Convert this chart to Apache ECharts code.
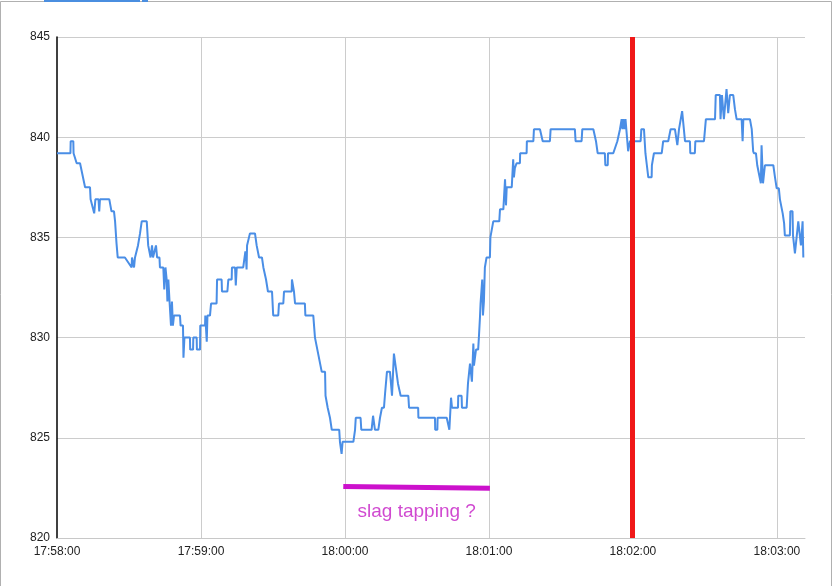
<!DOCTYPE html>
<html>
<head>
<meta charset="utf-8">
<script src="https://cdn.jsdelivr.net/npm/echarts@6/dist/echarts.min.js"></script>
<style>
html,body{margin:0;padding:0;background:#fff;}
#c{width:837px;height:586px;}
</style>
</head>
<body>
<div id="c"></div>
<script>
// seconds after 17:58:00
var seconds = [0,5.6,5.7,6.8,6.9,7.5,8.2,9.6,11.7,13.75,14.0,15.5,16.0,17.3,17.6,17.9,21.8,22.7,23.75,24.2,24.8,25.3,28.3,31.1,31.25,31.9,32.1,32.5,33.3,33.75,34.6,35.3,37.4,37.7,38.0,38.75,39.0,39.6,40.0,41.25,41.7,42.7,42.9,44.3,44.7,45.2,45.7,46.0,46.4,46.9,47.1,47.5,47.9,48.3,48.75,51.25,51.5,52.5,52.7,53.1,55.4,55.5,56.7,56.8,58.2,58.3,59.6,59.7,61.7,61.8,62.1,62.4,62.7,63.75,64.2,66.5,66.7,68.6,68.75,71.0,71.4,72.8,72.9,74.2,74.5,74.9,77.6,78.5,78.75,79.0,79.2,80.4,82.5,83.2,83.75,84.2,85.4,86.0,86.7,87.1,87.5,87.9,89.6,90.1,92.2,92.5,94.3,94.6,97.8,97.9,98.5,98.75,99.2,103.3,103.5,106.8,107.5,110.3,111.7,111.9,112.5,112.8,113.75,114.5,117.6,117.9,118.6,119.0,123.5,124.2,124.5,126.5,126.8,131.1,131.7,132.5,133.9,134.6,135.4,136.25,136.7,137.5,138.75,139.6,140.4,142.1,142.9,143.2,146.4,146.7,150.5,150.6,157.5,157.6,158.5,158.6,162.4,163.5,164.2,164.6,167.1,167.2,168.6,168.75,170.7,171.25,172.1,172.9,173.5,173.75,174.6,175.5,175.8,176.25,176.5,177.2,177.5,177.9,178.3,179.0,180.4,180.6,181.8,184.3,184.6,186.0,186.7,187.1,187.4,189.5,190.1,190.4,190.8,191.5,192.9,193.0,195.7,195.8,198.5,198.75,201.25,202.4,205.4,205.7,215.8,216.1,218.6,218.9,223.5,224.6,225.3,228.3,228.5,229.5,229.6,231.8,233.5,234.3,234.6,235.3,235.6,236.0,236.5,236.9,237.4,238.0,238.75,240.8,243.2,243.5,244.6,244.9,245.2,245.8,246.4,247.8,247.9,248.5,248.75,252.0,252.6,254.7,255.7,257.5,258.5,259.2,259.6,260.5,261.7,263.75,263.9,265.8,266.0,269.6,270.4,274.2,274.5,276.25,276.5,277.1,277.9,279.0,279.7,280.4,281.8,282.5,283.2,285.3,285.7,286.0,288.75,289.5,290.1,290.4,291.25,291.8,293.3,293.6,294.2,295.0,298.5,299.2,299.9,300.8,301.25,302.4,303.0,303.3,305.4,305.6,306.5,306.7,307.5,308.9,309.6,310.0,310.7,311.0];
var values = [839.2,839.2,839.8,839.8,839.2,839.2,838.7,838.7,837.5,837.5,836.9,836.2,836.9,836.9,836.3,836.9,836.9,836.3,836.3,835.8,834.7,834.0,834.0,833.5,834.0,834.0,833.5,834.0,834.0,834.6,835.2,835.8,835.8,835.2,834.6,834.6,834.0,834.6,834.0,834.6,834.0,834.0,833.5,833.5,832.4,833.5,832.9,831.8,832.9,831.8,831.8,830.6,831.8,830.6,831.1,831.1,830.6,830.6,829.0,830.0,830.0,829.4,829.4,830.0,830.0,829.4,829.4,830.6,830.6,831.1,831.1,829.8,831.1,831.1,831.7,831.7,832.9,832.9,832.3,832.3,832.9,832.9,833.5,833.5,832.6,833.5,833.5,834.3,834.0,833.4,834.6,835.2,835.2,834.6,834.6,834.0,834.0,833.5,833.5,832.9,832.9,832.3,832.3,831.1,831.1,831.7,831.7,832.3,832.3,832.9,832.9,832.3,831.7,831.7,831.1,831.1,830.0,828.3,828.3,827.1,827.1,826.5,826.0,825.4,825.4,824.8,824.2,824.8,824.8,825.4,826.0,826.0,825.4,825.4,826.1,825.4,825.4,826.0,826.5,826.5,827.2,828.3,828.3,827.1,829.2,827.7,827.7,827.1,827.1,826.5,826.5,826.0,826.0,825.4,825.4,826.0,826.0,825.4,827.0,826.5,826.5,827.1,827.1,826.5,826.5,827.7,828.7,827.8,829.7,828.6,829.4,829.4,830.0,831.0,831.7,832.9,831.1,831.8,833.5,834.0,834.0,835.0,835.8,835.8,836.4,836.4,837.9,836.6,837.5,837.5,838.9,838.0,838.45,838.7,838.7,839.2,839.2,839.8,839.8,840.4,840.4,839.8,839.8,840.4,840.4,839.8,839.8,840.4,840.4,839.8,839.2,839.2,838.6,838.6,839.2,839.2,839.8,839.8,840.4,840.9,840.4,840.9,840.4,840.9,840.9,839.3,839.8,839.8,839.8,840.4,840.4,839.8,839.2,838.6,838.0,838.0,838.6,838.6,839.2,839.2,839.8,839.8,840.4,840.4,839.6,840.4,840.4,841.3,839.8,839.8,839.2,839.2,839.8,839.8,840.9,840.9,842.1,842.1,840.9,842.1,840.9,842.4,841.2,842.1,842.1,841.4,840.9,840.9,839.8,840.9,840.9,840.4,839.3,839.2,839.2,838.6,837.7,839.6,837.7,838.6,838.6,838.0,837.45,837.45,836.9,836.2,835.7,835.1,835.1,836.3,836.3,835.1,834.2,835.8,835.8,834.6,835.8,834.0];
var xTicks = [60,120,180,240,300];
var xTickLabels = ['17:58:00','17:59:00','18:00:00','18:01:00','18:02:00','18:03:00'];
var yTicks = [820,825,830,835,840,845];
var slagLine = [[119.3,822.57],[180.4,822.48]];
var slagText = 'slag tapping ?';
var slagTextPos = [[149.9,821.3]];
var redLineAt = 239.7;

var data = seconds.map(function(s,i){return [s, values[i]];});

var chart = echarts.init(document.getElementById('c'), null, {renderer:'canvas'});
chart.setOption({
  animation:false,
  backgroundColor:'#fff',
  graphic:[
    {type:'rect', shape:{x:0.5,y:1.5,width:831,height:590}, style:{fill:'none',stroke:'#b0b0b0',lineWidth:1}, z:-10},
    {type:'rect', shape:{x:44,y:0,width:96,height:2}, style:{fill:'#4a8ee0'}, z:-9},
    {type:'rect', shape:{x:142,y:0,width:6,height:2}, style:{fill:'#4a8ee0'}, z:-9}
  ],
  grid:{left:57,right:32,top:37,bottom:48,containLabel:false},
  xAxis:{
    type:'value', min:0, max:311.7, interval:60,
    axisLine:{show:true,lineStyle:{color:'#c8c8c8',width:1}},
    axisTick:{show:false},
    splitLine:{show:false},
    axisLabel:{color:'#222',fontFamily:'Liberation Sans, Arial, sans-serif',fontSize:12,margin:8,
      showMaxLabel:false,
      formatter:function(v){var i=Math.round(v/60);return (Math.abs(v-i*60)<0.01 && xTickLabels[i])?xTickLabels[i]:'';}}
  },
  yAxis:{
    type:'value', min:820, max:845, interval:5,
    axisLine:{show:true,onZero:false,lineStyle:{color:'#000',width:1.5}},
    axisTick:{show:false},
    splitLine:{show:true,lineStyle:{color:'#cccccc',width:1}},
    axisLabel:{color:'#222',fontFamily:'Liberation Sans, Arial, sans-serif',fontSize:12,margin:7,
      formatter:function(v){return yTicks.indexOf(v)>=0?String(v):'';}}
  },
  series:[
    {type:'line', data:[], silent:true, z:1,
     markLine:{silent:true, symbol:['none','none'], label:{show:false},
       lineStyle:{color:'#cccccc',width:1,type:'solid'},
       data:xTicks.map(function(t){return {xAxis:t};}), z:1}
    },
    {type:'line', data:data, showSymbol:false, symbol:'none', smooth:false,
     lineStyle:{color:'#4a8ee6',width:2}, z:3,
     markLine:{silent:true, symbol:['none','none'], label:{show:false},
       lineStyle:{color:'#f01818',width:5,type:'solid'},
       data:[{xAxis:redLineAt}], z:5}
    },
    {type:'line', data:slagLine, showSymbol:false, symbol:'none',
     lineStyle:{color:'#cc11cc',width:5}, z:4},
    {type:'scatter', data:slagTextPos, symbolSize:0, silent:true,
     label:{show:true, position:'inside', formatter:slagText, color:'#c41cc4',
       fontFamily:'Liberation Sans, Arial, sans-serif', fontSize:19}}
  ]
});
</script>
</body>
</html>
